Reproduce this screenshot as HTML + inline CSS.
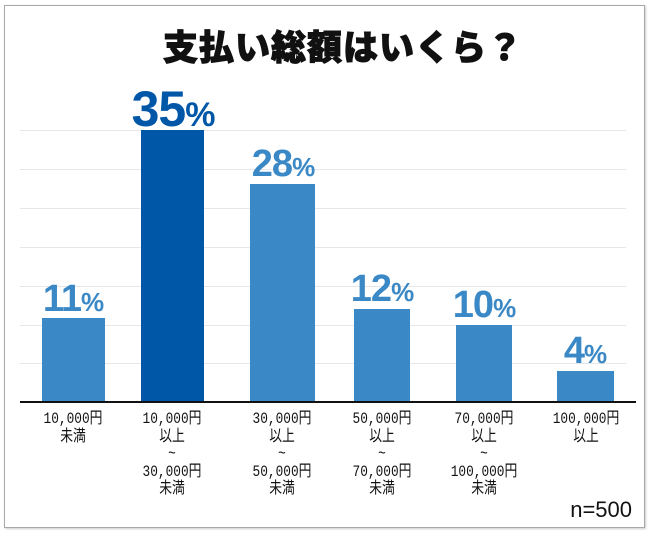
<!DOCTYPE html>
<html><head><meta charset="utf-8"><style>
body{margin:0;width:650px;height:540px;background:#fff;overflow:hidden;font-family:"Liberation Sans","Noto Sans CJK JP",sans-serif}
.frame{position:absolute;left:4px;top:5px;width:639px;height:521px;border:1px solid #a8a8a8;box-shadow:1px 1px 2px #ccc}
.t{position:absolute;left:18px;width:650px;top:20px;text-align:center;font-size:35px;font-weight:900;color:#111;letter-spacing:1px;-webkit-text-stroke:1px #111}
.g{position:absolute;left:20px;width:606px;height:1px;background:#e6e6e6}
.b{position:absolute;background:#3a88c5}
.p{position:absolute;text-align:center;font-weight:bold;color:#3a88c5;font-size:38px;width:120px;letter-spacing:-1px}
.p span{font-size:26px}
.l{position:absolute;text-align:center;font-family:"Liberation Mono","Noto Sans CJK JP",monospace;font-size:16px;line-height:17.5px;color:#111;width:130px;transform:scaleX(.8)}
</style></head><body>
<div class="frame"></div>
<div class="t">支払い総額はいくら？</div>
<div class="g" style="top:130px"></div><div class="g" style="top:169px"></div><div class="g" style="top:208px"></div><div class="g" style="top:247px"></div><div class="g" style="top:286px"></div><div class="g" style="top:325px"></div><div class="g" style="top:363px"></div>
<div class="b" style="left:42px;width:63px;top:318px;height:84px"></div>
<div class="b" style="left:141px;width:63px;top:130px;height:272px;background:#0057a8"></div>
<div class="b" style="left:250px;width:65px;top:184px;height:218px"></div>
<div class="b" style="left:354px;width:56px;top:309px;height:93px"></div>
<div class="b" style="left:456px;width:56px;top:325px;height:77px"></div>
<div class="b" style="left:557px;width:57px;top:371px;height:31px"></div>
<div style="position:absolute;left:20px;width:616px;top:401px;height:2px;background:#111"></div>
<div class="p" style="left:13px;top:278px">11<span>%</span></div>
<div class="p" style="left:113px;top:80px;color:#0057a8;font-size:50px">35<span style="font-size:34px">%</span></div>
<div class="p" style="left:223px;top:143px">28<span>%</span></div>
<div class="p" style="left:322px;top:268px">12<span>%</span></div>
<div class="p" style="left:424px;top:284px">10<span>%</span></div>
<div class="p" style="left:525px;top:330px">4<span>%</span></div>
<div class="l" style="left:8px;top:411px">10,000円<br>未満</div>
<div class="l" style="left:107px;top:411px">10,000円<br>以上<br>~<br>30,000円<br>未満</div>
<div class="l" style="left:217px;top:411px">30,000円<br>以上<br>~<br>50,000円<br>未満</div>
<div class="l" style="left:317px;top:411px">50,000円<br>以上<br>~<br>70,000円<br>未満</div>
<div class="l" style="left:419px;top:411px">70,000円<br>以上<br>~<br>100,000円<br>未満</div>
<div class="l" style="left:521px;top:411px">100,000円<br>以上</div>
<div style="position:absolute;right:18px;top:497px;font-size:22px;color:#111">n=500</div>
</body></html>
